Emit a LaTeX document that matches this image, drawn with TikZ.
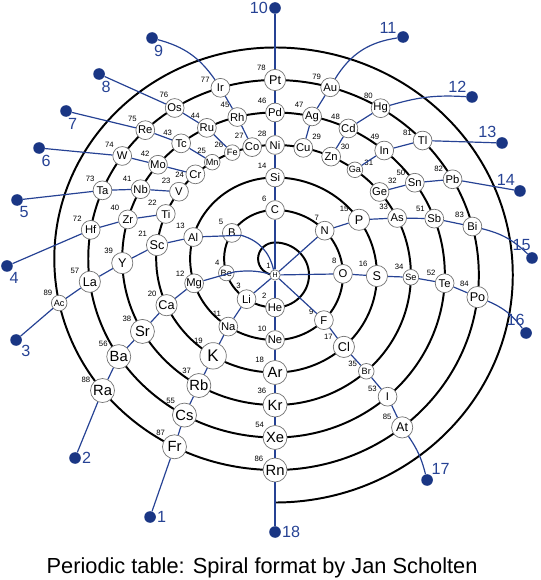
\documentclass[tikz,border=0pt]{standalone}
\usepackage{fontspec}
\setmainfont{Liberation Sans}
\usepackage{xcolor}
\usepackage{tikz}
\usetikzlibrary{backgrounds}

\definecolor{grpblue}{RGB}{38,66,148}
\definecolor{dotblue}{RGB}{26,54,132}

\begin{document}
\begin{tikzpicture}[x=0.26125mm,y=0.25mm,
    el/.style={circle, draw=black!55, line width=0.5pt, fill=white, inner sep=0pt,
        minimum size=4.7mm, font=\fontsize{8}{9}\selectfont},
    elH/.style={el, minimum size=2.6mm, font=\fontsize{5}{6}\selectfont},
    elS/.style={el, minimum size=3.9mm, font=\fontsize{6.5}{7}\selectfont},
    elM/.style={el, minimum size=5.3mm, font=\fontsize{9}{10}\selectfont},
    elL/.style={el, minimum size=6mm, font=\fontsize{10.5}{11}\selectfont},
    elK/.style={el, minimum size=6.6mm, font=\fontsize{12}{13}\selectfont},
    num/.style={font=\fontsize{5.5}{6}\selectfont, inner sep=1pt},
    spiral/.style={line width=1.4pt},
    grp/.style={draw=grpblue, line width=0.85pt},
    grpdot/.style={circle, fill=dotblue, inner sep=0pt, minimum size=2.9mm},
    grpnum/.style={text=grpblue, font=\fontsize{11.5}{12}\selectfont, inner sep=0.5pt}]

\useasboundingbox (-263.2,-305) rectangle (254.5,275);

% --------------------------------------------------
% Elements: right half turns, centred on H
% --------------------------------------------------
\node[elH, label={[num]120:1}] (H) at (0,0) {H};

\foreach \sym/\ang/\rad/\cls/\z/\lab in {
    He/-90/32.5/el/2/135,
    C/90/65/el/6/135, N/43/65/el/7/115, O/1/65/el/8/120, F/-44/65/el/9/155, Ne/-90/65/el/10/135,
    Si/90/97.5/el/14/135, P/34.5/97.5/elM/15/145, S/-0.6/97.5/elM/16/135, Cl/-47.5/97.5/elM/17/150,
    Ar/-90/97.5/elL/18/140,
    Ni/90/130/el/28/135, Cu/78/130/el/29/40, Zn/65.6/130/el/30/35, Ga/54/130/elS/31/15,
    Ge/39.7/130/el/32/45, As/26/130/el/33/140, Se/-1/130/elS/34/135, Br/-47.8/130/elS/35/160,
    Kr/-90/130/elL/36/125,
    Pd/90/162.5/el/46/135, Ag/77.4/162.5/el/47/135, Cd/64.4/162.5/el/48/135, In/50/162.5/el/49/110,
    Sn/34.6/162.5/el/50/145, Sb/20.3/162.5/el/51/145, Te/-2.9/162.5/el/52/140, I/-48.5/162.5/el/53/160,
    Xe/-90/162.5/elL/54/140,
    Pt/90/195/elM/78/135, Au/74.3/195/el/79/140, Hg/58.8/195/el/80/130, Tl/43.6/195/el/81/160,
    Pb/29.4/195/el/82/145, Bi/14.4/195/el/83/135, Po/-6.5/195/elM/84/130, At/-51.4/195/elM/85/145,
    Rn/-90/195/elL/86/145}
    \node[\cls, label={[num]\lab:\z}] (\sym) at (\ang:\rad) {\sym};

% --------------------------------------------------
% Elements: left half turns, centre raised by half a step
% --------------------------------------------------
\begin{scope}[shift={(0,16.25)}]
\foreach \sym/\ang/\rad/\cls/\z/\lab in {
    Li/236/48.75/el/3/115, Be/197/48.75/elS/4/130, B/148/48.75/el/5/135,
    Na/236.6/81.25/el/11/125, Mg/197.6/81.25/el/12/145, Al/164.5/81.25/el/13/135,
    K/238.6/113.75/elK/19/130, Ca/204.1/113.75/elM/20/140, Sc/173.1/113.75/elM/21/140,
    Ti/156.8/113.75/el/22/140, V/143.9/113.75/el/23/135, Cr/132.1/113.75/el/24/180,
    Mn/121.9/113.75/elS/25/125, Fe/111.1/113.75/elS/26/155, Co/101.1/113.75/el/27/135,
    Rb/240.1/146.25/elL/37/120, Sr/209.8/146.25/elL/38/140, Y/181.7/146.25/elM/39/135,
    Zr/164.4/146.25/el/40/135, Nb/151.6/146.25/el/41/140, Mo/140/146.25/el/42/135,
    Tc/127.9/146.25/el/43/140, Ru/116.5/146.25/el/44/125, Rh/104.3/146.25/el/45/130,
    Cs/241/178.75/elL/55/130, Ba/213.2/178.75/elL/56/140, La/187.4/178.75/elM/57/145,
    Hf/170.7/178.75/el/72/140, Ta/157.5/178.75/el/73/130, W/144.9/178.75/el/74/135,
    Re/134/178.75/el/75/135, Os/122.5/178.75/el/76/120, Ir/107/178.75/el/77/160,
    Fr/242.9/211.25/elL/87/130, Ra/218.6/211.25/elL/88/150, Ac/192.1/211.25/elS/89/130}
    \node[\cls, label={[num]\lab:\z}] (\sym) at (\ang:\rad) {\sym};
\end{scope}

% --------------------------------------------------
% Group end points
% --------------------------------------------------
\node[grpdot, label={[grpnum]0:1}] (g1) at (-119.6,-242) {};
\node[grpdot, label={[grpnum]0:2}] (g2) at (-191.4,-183) {};
\node[grpdot, label={[grpnum]-45:3}] (g3) at (-247.8,-65) {};
\node[grpdot, label={[grpnum]-75:4}] (g4) at (-256.5,9) {};
\node[grpdot, label={[grpnum]-75:5}] (g5) at (-246.9,75) {};
\node[grpdot, label={[grpnum]-75:6}] (g6) at (-225.8,127) {};
\node[grpdot, label={[grpnum]-80:7}] (g7) at (-200,164) {};
\node[grpdot, label={[grpnum]-75:8}] (g8) at (-168.4,201) {};
\node[grpdot, label={[grpnum]-80:9}] (g9) at (-117.7,237) {};
\node[grpdot, label={[grpnum]180:10}] (g10) at (0,267) {};
\node[grpdot, label={[grpnum]160:11}] (g11) at (122.5,238) {};
\node[grpdot, label={[grpnum]140:12}] (g12) at (188.5,178) {};
\node[grpdot, label={[grpnum]140:13}] (g13) at (217.2,132) {};
\node[grpdot, label={[grpnum]132:14}] (g14) at (234.4,84) {};
\node[grpdot, label={[grpnum]95:15}] (g15) at (245.9,17) {};
\node[grpdot, label={[grpnum]95:16}] (g16) at (240.2,-58) {};
\node[grpdot, label={[grpnum]55:17}] (g17) at (145.5,-205) {};
\node[grpdot, label={[grpnum]0:18}] (g18) at (0,-257) {};

% --------------------------------------------------
% Spiral: half turns, left ones round (0,16.25)
% --------------------------------------------------
\begin{pgfonlayer}{background}
\draw[spiral] (0,0)
    arc[start angle=270, end angle=90, radius=16.25]
    arc[start angle=90, end angle=-90, radius=32.5]
    arc[start angle=270, end angle=90, radius=48.75]
    arc[start angle=90, end angle=-90, radius=65]
    arc[start angle=270, end angle=90, radius=81.25]
    arc[start angle=90, end angle=-90, radius=97.5]
    arc[start angle=270, end angle=90, radius=113.75]
    arc[start angle=90, end angle=-90, radius=130]
    arc[start angle=270, end angle=90, radius=146.25]
    arc[start angle=90, end angle=-90, radius=162.5]
    arc[start angle=270, end angle=90, radius=178.75]
    arc[start angle=90, end angle=-90, radius=195]
    arc[start angle=270, end angle=90, radius=211.25]
    arc[start angle=90, end angle=-90, radius=227.5];
\end{pgfonlayer}

% --------------------------------------------------
% Groups
% --------------------------------------------------
\draw[grp] (H) -- (Li) -- (Na) -- (K) -- (Rb) -- (Cs) -- (Fr) -- (g1);
\draw[grp] (H) to[bend right=10] (Be) -- (Mg) -- (Ca) -- (Sr) -- (Ba) -- (Ra) -- (g2);
\draw[grp] (H) to[bend right=30] (B) -- (Al) -- (Sc) -- (Y) -- (La) -- (Ac) -- (g3);
\draw[grp] (Ti) -- (Zr) -- (Hf) -- (g4);
\draw[grp] (V) -- (Nb) -- (Ta) -- (g5);
\draw[grp] (Cr) -- (Mo) -- (W) -- (g6);
\draw[grp] (Mn) -- (Tc) -- (Re) -- (g7);
\draw[grp] (Fe) -- (Ru) -- (Os) -- (g8);
\draw[grp] (Co) -- (Rh) -- (Ir) to[bend right=20] (g9);
\draw[grp] (H) -- (C) -- (Si) -- (Ni) -- (Pd) -- (Pt) -- (g10);
\draw[grp] (Cu) -- (Ag) -- (Au) to[bend left=25] (g11);
\draw[grp] (Zn) -- (Cd) -- (Hg) to[bend left=10] (g12);
\draw[grp] (Ga) -- (In) -- (Tl) -- (g13);
\draw[grp] (Ge) -- (Sn) -- (Pb) -- (g14);
\draw[grp] (H) -- (N) -- (P) -- (As) -- (Sb) -- (Bi) to[bend left=15] (g15);
\draw[grp] (H) -- (O) -- (S) -- (Se) -- (Te) -- (Po) to[bend left=15] (g16);
\draw[grp] (H) -- (F) -- (Cl) -- (Br) -- (I) -- (At) to[bend left=10] (g17);
\draw[grp] (H) -- (He) -- (Ne) -- (Ar) -- (Kr) -- (Xe) -- (Rn) -- (g18);

% --------------------------------------------------
% Caption
% --------------------------------------------------
\node[anchor=base, font=\fontsize{15.5}{18}\selectfont] (title) at (-12.4,-298)
    {Periodic table: Spiral format by Jan Scholten};

\end{tikzpicture}
\end{document}
